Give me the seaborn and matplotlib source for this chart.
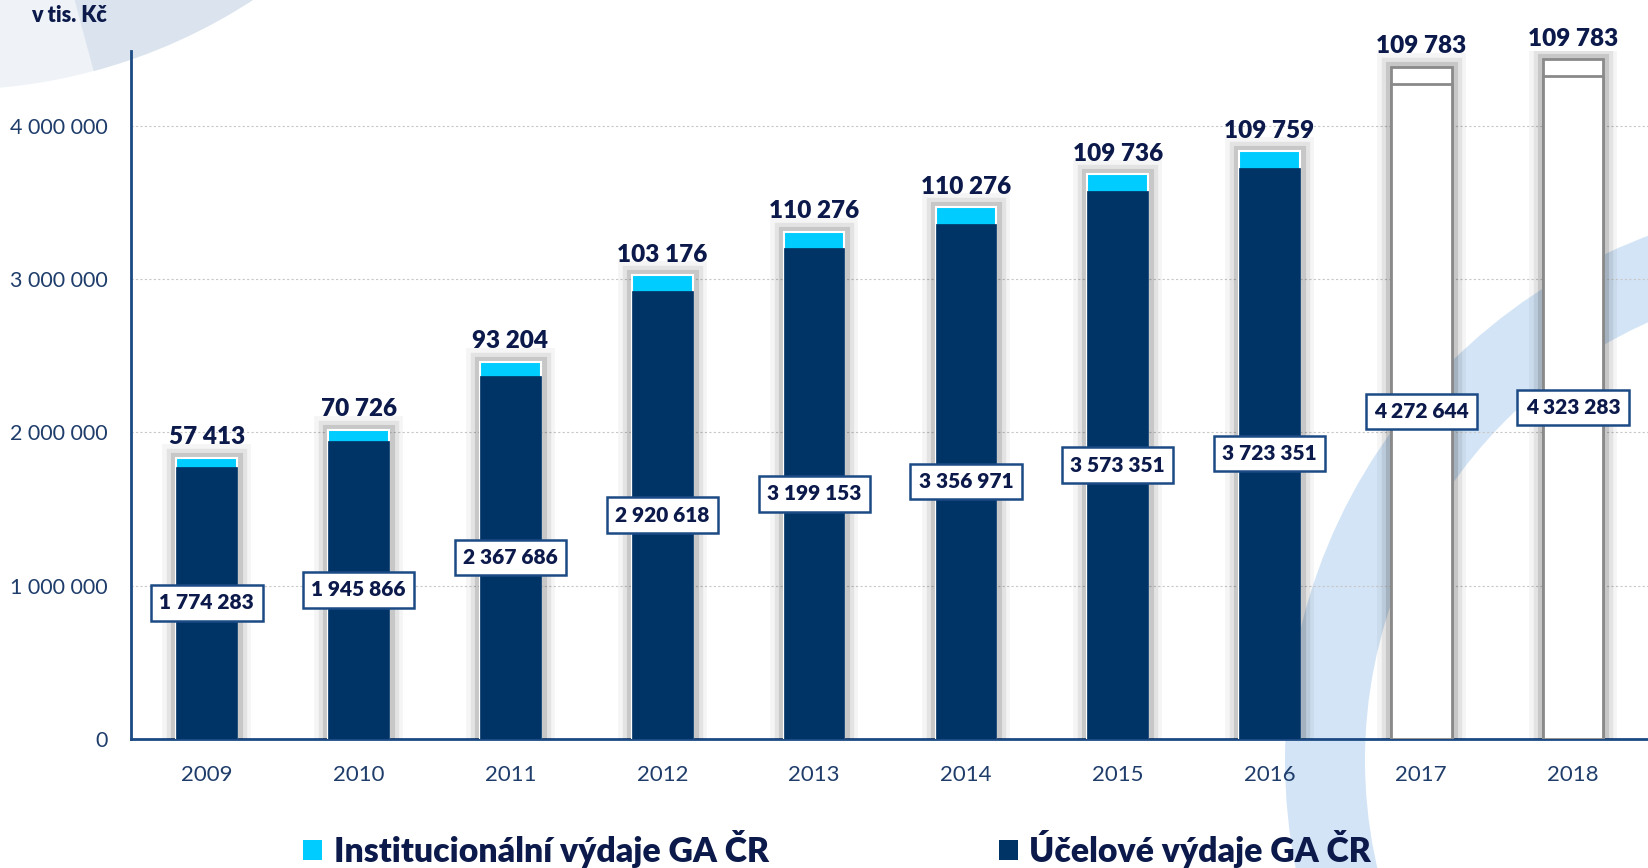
import matplotlib
matplotlib.use("Agg")
import matplotlib.pyplot as plt
import matplotlib.patheffects as pe
from matplotlib.patches import Wedge, Patch
import seaborn as sns
import pandas as pd

years = ["2009", "2010", "2011", "2012", "2013", "2014", "2015", "2016", "2017", "2018"]
ucelove = [1774283, 1945866, 2367686, 2920618, 3199153, 3356971, 3573351, 3723351, 4272644, 4323283]
instituc = [57413, 70726, 93204, 103176, 110276, 110276, 109736, 109759, 109783, 109783]
yticks = [0, 1000000, 2000000, 3000000, 4000000]
ytick_labels = ["0", "1 000 000", "2 000 000", "3 000 000", "4 000 000"]
legend_labels = ["Institucionální výdaje GA ČR", "Účelové výdaje GA ČR"]
unit_label = "v tis. Kč"

NAVY_TXT = "#0c1a4b"
TICK_C = "#1f3d6b"
DARK = "#003366"
CYAN = "#00ccff"

df = pd.DataFrame({"year": years, "ucel": ucelove, "inst": instituc})
df["total"] = df["ucel"] + df["inst"]

sns.set_theme(style="white")
plt.rcParams["font.family"] = ["Lato", "DejaVu Sans"]

fig = plt.figure(figsize=(16.49, 8.68), dpi=100)

# background decoration
bg = fig.add_axes([0, 0, 1, 1], zorder=-5)
bg.set_xlim(0, 1649)
bg.set_ylim(868, 0)
bg.axis("off")
bg.add_patch(Wedge((1845, 760), 560, 90, 270, width=80, facecolor="#a9cbee", alpha=0.5, lw=0))
bg.add_patch(Wedge((1845, 1060), 420, 100, 200, width=200, facecolor="#d6e6f7", alpha=0.55, lw=0))
bg.add_patch(Wedge((-50, -465), 555, 0, 120, width=220, facecolor="#eef2f7", alpha=0.9, lw=0))
bg.add_patch(Wedge((-50, -465), 555, 0, 75, width=200, facecolor="#d3deeb", alpha=0.7, lw=0))
bg.add_patch(Wedge((-50, -465), 555, 0, 55, width=200, facecolor="#bccde2", alpha=0.6, lw=0))

ax = fig.add_axes([0.0794, 0.1486, 0.9206, 0.7932])
ax.patch.set_alpha(0)

n = len(years)
top_colors = [CYAN] * 8 + ["white"] * 2
bot_colors = [DARK] * 8 + ["white"] * 2

sns.barplot(data=df, x="year", y="total", hue="year", palette=top_colors, legend=False,
            width=0.4, saturation=1, ax=ax, zorder=3)
top_patches = list(ax.patches)
sns.barplot(data=df, x="year", y="ucel", hue="year", palette=bot_colors, legend=False,
            width=0.4, saturation=1, ax=ax, zorder=4)
bot_patches = list(ax.patches)[len(top_patches):]

glow = [pe.Stroke(linewidth=20, foreground="black", alpha=0.04),
        pe.Stroke(linewidth=14, foreground="black", alpha=0.07),
        pe.Stroke(linewidth=8, foreground="black", alpha=0.12),
        pe.Normal()]
for i, p in enumerate(top_patches):
    if i < 8:
        p.set_edgecolor("white")
        p.set_linewidth(1.5)
    else:
        p.set_edgecolor("#8a8a8a")
        p.set_linewidth(2)
    p.set_path_effects(glow)
for i, p in enumerate(bot_patches):
    if i < 8:
        p.set_edgecolor(DARK)
        p.set_linewidth(0.5)
    else:
        p.set_edgecolor("#8a8a8a")
        p.set_linewidth(2)

ax.set_xlim(-0.5, 9.5)
ax.set_ylim(0, 4490000)
ax.set_yticks(yticks)
ax.set_yticklabels(ytick_labels)
ax.set_xlabel("")
ax.set_ylabel("")
ax.tick_params(axis="y", length=0, pad=17, labelsize=15.5, labelcolor=TICK_C)
ax.tick_params(axis="x", length=0, pad=19, labelsize=16, labelcolor=TICK_C)
ax.grid(axis="y", color="#c8c8c8", linestyle=(0, (2, 2)), linewidth=0.8, zorder=0)
ax.set_axisbelow(True)
for s in ["top", "right"]:
    ax.spines[s].set_visible(False)
ax.spines["left"].set_color("#1b4a84")
ax.spines["left"].set_linewidth(2)
ax.spines["bottom"].set_color("#1b4a84")
ax.spines["bottom"].set_linewidth(2)

for i in range(n):
    ax.annotate(f"{instituc[i]:,}".replace(",", " "), (i, ucelove[i] + instituc[i]),
                xytext=(0, 7), textcoords="offset points", ha="center", va="bottom",
                fontsize=17.5, fontweight="heavy", color=NAVY_TXT, zorder=10)
    ax.text(i, ucelove[i] / 2, f"{ucelove[i]:,}".replace(",", " "), ha="center", va="center",
            fontsize=15, fontweight="heavy", color=NAVY_TXT, zorder=10,
            bbox=dict(boxstyle="square,pad=0.4", facecolor="white", edgecolor="#1b4a84", linewidth=1.8))

fig.text(0.065, 0.982, unit_label, ha="right", va="center", fontsize=15.5, fontweight="heavy", color=NAVY_TXT)

handles = [Patch(facecolor=CYAN, edgecolor="none"), Patch(facecolor=DARK, edgecolor="none")]
leg = fig.legend(handles, legend_labels, loc="center left", bbox_to_anchor=(0.184, 0.022), ncol=2,
                 frameon=False, fontsize=24.3, handlelength=0.56, handleheight=0.56, handletextpad=0.35,
                 columnspacing=6.8, borderpad=0, borderaxespad=0)
for t in leg.get_texts():
    t.set_fontweight("heavy")
    t.set_color(NAVY_TXT)

fig.savefig("out.png", dpi=100)
